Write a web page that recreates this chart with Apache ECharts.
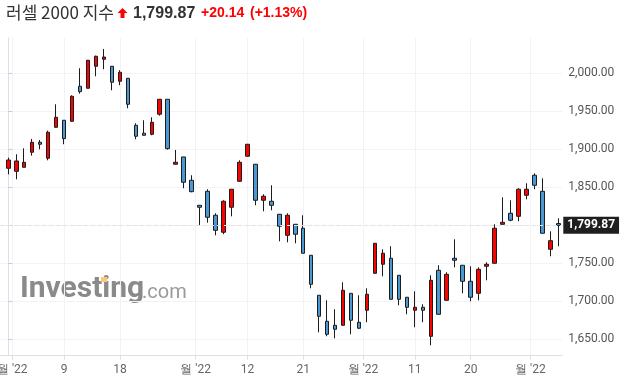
<!DOCTYPE html>
<html><head><meta charset="utf-8">
<script src="https://cdn.jsdelivr.net/npm/echarts@6/dist/echarts.min.js"></script>
<style>html,body{margin:0;padding:0;background:#fff}#c{width:624px;height:386px}</style>
</head><body><div id="c"></div>
<script>
const dates = [
 '2022-07-29',
 '2022-08-01','2022-08-02','2022-08-03','2022-08-04','2022-08-05','2022-08-08','2022-08-09','2022-08-10','2022-08-11','2022-08-12',
 '2022-08-15','2022-08-16','2022-08-17','2022-08-18','2022-08-19','2022-08-22','2022-08-23','2022-08-24','2022-08-25','2022-08-26',
 '2022-08-29','2022-08-30','2022-08-31',
 '2022-09-01','2022-09-02','2022-09-06','2022-09-07','2022-09-08','2022-09-09','2022-09-12','2022-09-13','2022-09-14','2022-09-15',
 '2022-09-16','2022-09-19','2022-09-20','2022-09-21','2022-09-22','2022-09-23','2022-09-26','2022-09-27','2022-09-28','2022-09-29','2022-09-30',
 '2022-10-03','2022-10-04','2022-10-05','2022-10-06','2022-10-07','2022-10-10','2022-10-11','2022-10-12','2022-10-13','2022-10-14',
 '2022-10-17','2022-10-18','2022-10-19','2022-10-20','2022-10-21','2022-10-24','2022-10-25','2022-10-26','2022-10-27','2022-10-28','2022-10-31',
 '2022-11-01','2022-11-02','2022-11-03','2022-11-04'
];
const opens = [1875.0,1871.0,1876.3,1896.1,1909.2,1888.2,1928.9,1938.2,1936.8,1982.9,
 1980.3,2009.2,2018.4,2009.2,1989.5,1993.4,1931.6,1921.1,1919.7,1946.1,
 1965.8,1880.3,1889.9,1859.2,1826.3,1844.7,1813.2,1790.8,1823.7,1857.9,
 1890.8,1880.3,1832.9,1831.6,1814.5,1786.8,1801.3,1796.1,1760.5,1707.9,
 1673.7,1668.4,1668.4,1710.5,1672.4,1688.2,1736.8,1748.7,1756.6,1734.2,
 1705.3,1688.2,1692.1,1653.9,1740.8,1701.3,1756.6,1747.4,1726.3,1710.5,
 1746.1,1750.0,1801.3,1815.8,1811.8,1839.5,1865.8,1844.7,1768.4,1802.3];
const closes = [1885.9,1884.6,1882.9,1909.2,1906.6,1922.4,1942.1,1914.0,1969.7,1975.8,
 2017.1,2022.4,2021.4,1988.2,2001.3,1959.2,1917.1,1918.4,1935.5,1965.8,
 1900.8,1882.9,1856.6,1844.2,1823.7,1810.5,1793.4,1831.6,1847.4,1882.9,
 1906.6,1832.9,1838.2,1826.3,1798.7,1813.2,1788.2,1763.2,1722.4,1680.3,
 1656.6,1663.2,1714.5,1675.0,1664.5,1709.2,1776.3,1763.2,1702.6,1702.6,
 1692.1,1692.1,1688.2,1727.6,1682.9,1735.5,1754.0,1726.3,1705.3,1742.1,
 1748.7,1796.1,1803.9,1806.6,1847.4,1847.4,1852.6,1789.5,1779.73,1799.87];
const lows = [1867.0,1860.5,1876.0,1891.6,1900.0,1885.5,1928.5,1906.6,1936.3,1973.2,
 1980.0,1996.0,2005.3,1977.6,1984.2,1954.0,1913.2,1918.0,1918.4,1944.2,
 1899.5,1880.0,1848.7,1843.4,1800.0,1803.4,1786.8,1788.2,1811.8,1857.5,
 1890.5,1826.3,1818.4,1819.7,1778.9,1777.6,1776.3,1763.0,1717.1,1659.2,
 1654.0,1651.3,1668.0,1656.6,1664.0,1672.4,1736.5,1732.9,1702.5,1694.7,
 1682.9,1665.8,1672.4,1642.1,1682.5,1701.0,1744.7,1710.5,1700.0,1701.3,
 1727.6,1749.8,1801.0,1805.3,1805.3,1834.2,1847.4,1789.0,1759.2,1772.4];
const highs = [1889.0,1893.4,1901.3,1913.6,1912.2,1924.5,1959.2,1938.5,1971.0,2006.6,
 2017.5,2023.2,2032.0,2009.5,2004.0,1993.5,1934.2,1938.2,1942.1,1966.0,
 1966.0,1899.1,1890.0,1865.8,1826.5,1847.4,1815.8,1832.9,1847.5,1885.5,
 1907.0,1880.5,1840.8,1852.6,1814.6,1815.8,1801.5,1813.2,1760.6,1708.0,
 1701.3,1689.5,1725.0,1710.6,1707.9,1717.1,1776.5,1768.4,1772.4,1734.3,
 1705.5,1713.2,1696.1,1734.2,1747.4,1738.2,1781.6,1747.5,1746.1,1744.7,
 1751.3,1801.3,1836.8,1832.9,1848.7,1855.3,1868.4,1861.8,1792.1,1809.2];
const dayTickDates = ['2022-08-09','2022-08-18','2022-09-12','2022-09-21','2022-10-11','2022-10-20'];
const yTicks = [1650,1700,1750,1800,1850,1900,1950,2000];
const titleName = '러셀 2000 지수';
const lastChange = '+20.14';
const lastChangePct = '(+1.13%)';

// build x ticks: month boundaries + selected days
const xTickMap = {};
for (let i = 1; i < dates.length; i++) {
  if (dates[i].slice(5,7) !== dates[i-1].slice(5,7)) {
    xTickMap[String(i - 0.5)] = "월 '" + dates[i].slice(2,4);
  }
}
dayTickDates.forEach(d => { const i = dates.indexOf(d); xTickMap[String(i)] = String(parseInt(d.slice(8,10),10)); });
const xTickValues = Object.keys(xTickMap).map(Number).sort((a,b)=>a-b);

const fmt = v => v.toLocaleString('en-US',{minimumFractionDigits:2, maximumFractionDigits:2});
const lastClose = closes[closes.length-1];

const chart = echarts.init(document.getElementById('c'), null, {renderer:'canvas'});
chart.setOption({
  animation:false,
  backgroundColor:'#fff',
  grid:{left:0, right:61.7, top:38, bottom:30.3, containLabel:false, outerBoundsMode:'none'},
  xAxis:{
    type:'value', min:-1.04, max:69.5,
    axisLine:{show:true, lineStyle:{color:'#dcdfe6', width:1}},
    axisTick:{show:true, customValues:xTickValues, length:4, lineStyle:{color:'#dcdfe6'}},
    splitLine:{show:true, lineStyle:{color:'#f2f3f6', width:1}},
    axisLabel:{customValues:xTickValues, formatter:v=>xTickMap[String(v)]||'', color:'#666', fontFamily:'Roboto', fontSize:12, margin:8}
  },
  yAxis:{
    type:'value', position:'right', min:1628.4, max:2046.4, scale:true,
    axisLine:{show:true, lineStyle:{color:'#dcdfe6', width:1}},
    axisTick:{show:true, customValues:yTicks, length:4, lineStyle:{color:'#c8cbd2'}},
    splitLine:{show:true, lineStyle:{color:'#f2f3f6', width:1}},
    axisLabel:{customValues:yTicks, formatter:v=>fmt(v), color:'#555', fontFamily:'Roboto', fontSize:12, margin:6}
  },
  series:[{
    type:'candlestick',
    data: dates.map((d,i)=>[i, opens[i], closes[i], lows[i], highs[i]]),
    encode:{x:0, y:[1,2,3,4]},
    barWidth:4,
    itemStyle:{color:'#ff0000', color0:'#4a98d3', borderColor:'#1c1c1c', borderColor0:'#1c1c1c', borderWidth:1},
    markLine:{
      silent:true, symbol:['none','none'], animation:false,
      lineStyle:{color:'#e2e2e2', type:[4,3], width:1},
      label:{show:true, position:'end', formatter:fmt(lastClose), backgroundColor:'#1f1f1f', color:'#fff',
        fontFamily:'Roboto', fontSize:12, fontWeight:'bold', padding:[3,4,2,4], distance:1},
      emphasis:{disabled:true},
      data:[{yAxis:lastClose}]
    }
  }],
  graphic:[
    {type:'text', x:6, y:13, style:{text:titleName, font:'17px "Noto Sans CJK KR"', fill:'#333', verticalAlign:'middle'}},
    {type:'polygon', shape:{points:[[122.5,8],[127.5,13],[124.5,13],[124.5,18],[120.5,18],[120.5,13],[117.5,13]]}, style:{fill:'#f00'}},
    {type:'text', x:133, y:13.5, style:{text:fmt(lastClose), font:'bold 16px "Liberation Sans"', fill:'#333', verticalAlign:'middle'}},
    {type:'text', x:201, y:13.5, style:{text:lastChange, font:'bold 14px "Liberation Sans"', fill:'#f00', verticalAlign:'middle'}},
    {type:'text', x:250, y:13.5, style:{text:lastChangePct, font:'bold 14px "Liberation Sans"', fill:'#f00', verticalAlign:'middle'}},
    {type:'text', x:20, y:289, z:-1, style:{text:'Investing', font:'bold 30px Roboto', fill:'#8a8a8a', verticalAlign:'middle'}},
    {type:'text', x:142, y:293, z:-1, style:{text:'.com', font:'20px Roboto', fill:'#9a9a9a', verticalAlign:'middle'}},
    {type:'rect', z:-1, shape:{x:101, y:277, width:6, height:5}, style:{fill:'#fbc87a'}}
  ]
});
</script></body></html>
